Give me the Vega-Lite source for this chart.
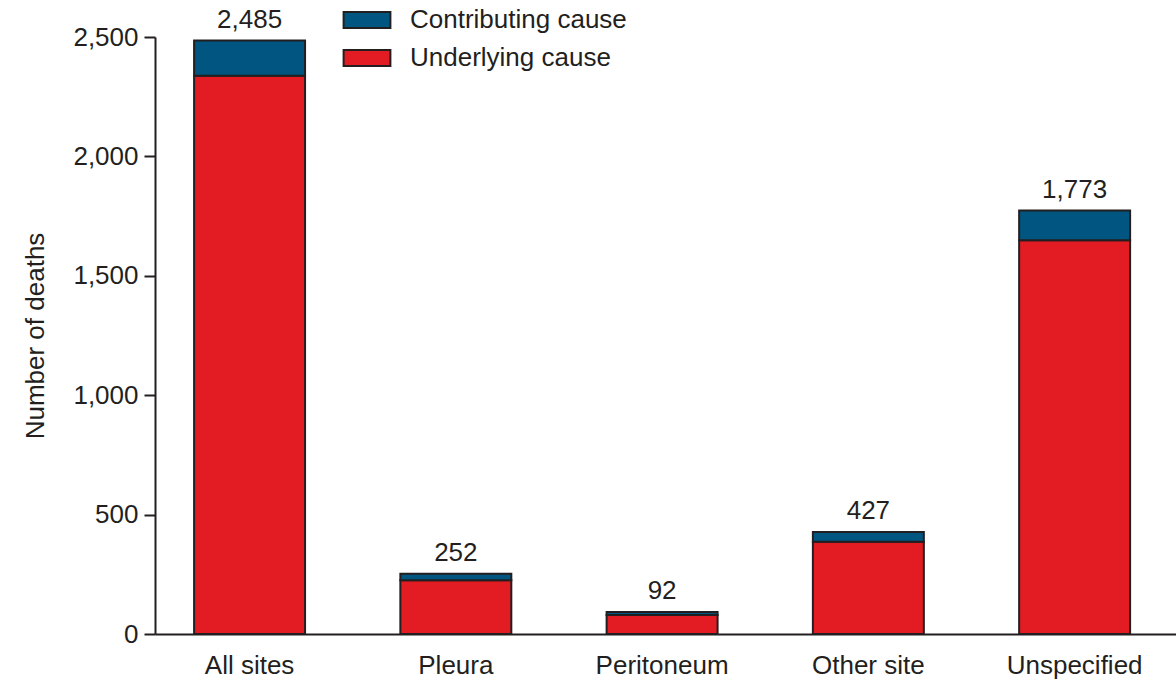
{
  "$schema": "https://vega.github.io/schema/vega-lite/v6.json",
  "autosize": {"type": "none"},
  "padding": {"left": 155, "top": 37, "right": 0, "bottom": 48},
  "width": 1021,
  "height": 597,
  "background": "white",
  "config": {
    "view": {"stroke": null},
    "font": "Liberation Sans",
    "axis": {"labelFont": "Liberation Sans", "titleFont": "Liberation Sans", "labelColor": "#231f20", "titleColor": "#231f20", "domainColor": "#231f20", "tickColor": "#231f20", "domainWidth": 2, "tickWidth": 2, "grid": false},
    "legend": {"labelFont": "Liberation Sans", "labelColor": "#231f20"}
  },
  "data": {
    "values": [
      {"site": "All sites", "cause": "Underlying cause", "deaths": 2338},
      {"site": "All sites", "cause": "Contributing cause", "deaths": 147},
      {"site": "Pleura", "cause": "Underlying cause", "deaths": 225},
      {"site": "Pleura", "cause": "Contributing cause", "deaths": 27},
      {"site": "Peritoneum", "cause": "Underlying cause", "deaths": 80},
      {"site": "Peritoneum", "cause": "Contributing cause", "deaths": 12},
      {"site": "Other site", "cause": "Underlying cause", "deaths": 386},
      {"site": "Other site", "cause": "Contributing cause", "deaths": 41},
      {"site": "Unspecified", "cause": "Underlying cause", "deaths": 1649},
      {"site": "Unspecified", "cause": "Contributing cause", "deaths": 124}
    ]
  },
  "encoding": {
    "x": {
      "field": "site", "type": "nominal",
      "sort": ["All sites", "Pleura", "Peritoneum", "Other site", "Unspecified"],
      "scale": {"paddingInner": 0.462, "paddingOuter": 0.206, "align": 0.46},
      "axis": {"title": null, "labelAngle": 0, "labelFontSize": 26, "ticks": false, "labelPadding": 18}
    }
  },
  "layer": [
    {
      "mark": {"type": "bar", "stroke": "#231f20", "strokeWidth": 2},
      "encoding": {
        "y": {
          "field": "deaths", "type": "quantitative", "stack": "zero",
          "scale": {"domain": [0, 2500], "nice": false},
          "axis": {"title": "Number of deaths", "titleFontSize": 26, "titleFontWeight": "normal", "labelFontSize": 26, "values": [0, 500, 1000, 1500, 2000, 2500], "format": ",d", "tickSize": 11, "labelPadding": 6, "titlePadding": 24}
        },
        "color": {
          "field": "cause", "type": "nominal",
          "scale": {"domain": ["Contributing cause", "Underlying cause"], "range": ["#005581", "#e31b23"]},
          "legend": {
            "title": null, "orient": "none", "legendX": 193, "legendY": -36,
            "labelFontSize": 26, "labelLimit": 0, "symbolType": "M-1.3,-0.45H1.3V0.45H-1.3Z", "symbolSize": 1296,
            "symbolStrokeColor": "#231f20", "symbolStrokeWidth": 2, "symbolOpacity": 1,
            "labelOffset": 24, "rowPadding": 6
          }
        },
        "order": {"field": "cause", "sort": "descending"}
      }
    },
    {
      "transform": [{"aggregate": [{"op": "sum", "field": "deaths", "as": "total"}], "groupby": ["site"]}],
      "mark": {"type": "text", "fontSize": 26, "dy": -21, "color": "#231f20", "font": "Liberation Sans"},
      "encoding": {
        "y": {"field": "total", "type": "quantitative"},
        "text": {"field": "total", "type": "quantitative", "format": ","}
      }
    }
  ]
}
